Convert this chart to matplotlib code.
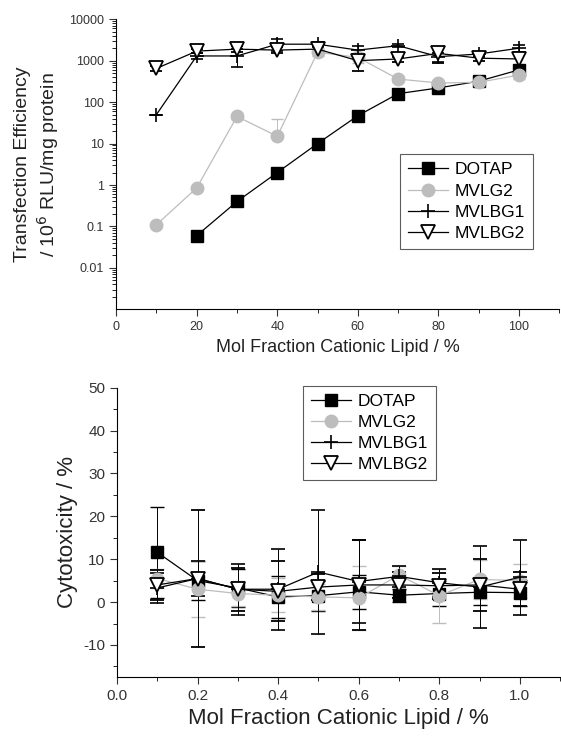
import matplotlib
matplotlib.use("Agg")
import matplotlib.pyplot as plt
import numpy as np
from matplotlib.ticker import LogLocator, NullFormatter, MultipleLocator

plt.rcParams['font.family'] = ['Liberation Sans', 'DejaVu Sans']
plt.rcParams['axes.unicode_minus'] = False

# transfection efficiency (top)
x_top = [10, 20, 30, 40, 50, 60, 70, 80, 90, 100]
dotap_te = [np.nan, 0.06, 0.4, 2.0, 10, 47, 160, 220, 320, 600]
dotap_te_err = [0, 0.01, 0.08, 0.3, 1.5, 8, 40, 40, 60, 100]
mvlg2_te = [0.11, 0.85, 45, 15, 1600, 1200, 360, 290, 300, 450]
mvlg2_te_err = [0.01, 0.1, 5, 25, 300, 300, 60, 50, 60, 80]
mvlbg1_te = [50, 1300, 1300, 2500, 2500, 1800, 2300, 1250, 1450, 2000]
mvlbg1_te_err = [0, 200, 600, 800, 400, 400, 200, 300, 200, 400]
mvlbg2_te = [650, 1700, 1900, 1800, 1900, 1000, 1100, 1500, 1150, 1100]
mvlbg2_te_err = [80, 200, 300, 300, 300, 450, 150, 600, 150, 300]

# cytotoxicity (bottom)
x_bot = [0.1, 0.2, 0.3, 0.4, 0.5, 0.6, 0.7, 0.8, 0.9, 1.0]
dotap_cy = [11.6, 5.0, 3.3, 1.2, 1.5, 2.4, 1.6, 2.0, 2.3, 2.2]
dotap_cy_err = [10.6, 4.5, 4.5, 5.0, 3.5, 4.0, 1.5, 3.0, 3.0, 3.0]
mvlg2_cy = [5.5, 3.0, 2.0, 1.6, 1.2, 1.0, 6.3, 1.5, 5.3, 5.0]
mvlg2_cy_err = [2.3, 6.5, 3.0, 4.0, 3.0, 7.5, 2.2, 6.3, 4.5, 4.0]
mvlbg1_cy = [3.3, 5.5, 3.0, 3.0, 7.0, 4.8, 6.0, 4.5, 3.5, 5.8]
mvlbg1_cy_err = [3.5, 4.0, 6.0, 9.5, 14.5, 9.7, 2.5, 3.3, 9.6, 8.8]
mvlbg2_cy = [4.0, 5.5, 3.0, 2.5, 3.5, 4.0, 4.0, 3.8, 4.0, 3.0]
mvlbg2_cy_err = [3.5, 16.0, 5.0, 7.0, 3.0, 10.5, 3.0, 3.0, 6.0, 4.0]

names = ["DOTAP", "MVLG2", "MVLBG1", "MVLBG2"]
styles = [
    dict(color="black", marker="s", markersize=9, mfc="black", mec="black"),
    dict(color="#bdbdbd", marker="o", markersize=9, mfc="#bdbdbd", mec="#bdbdbd"),
    dict(color="black", marker="+", markersize=10, mew=1.2),
    dict(color="black", marker="v", markersize=9.5, mfc="white", mec="black", mew=1.3),
]


def log_err(y, e):
    # keep the lower whisker above zero on a log axis
    y = np.asarray(y, float)
    e = np.asarray(e, float)
    lo = np.where(e >= y, 0, e)
    return [lo, e]


fig = plt.figure(figsize=(5.61, 7.40), dpi=100)

ax1 = fig.add_axes([0.207, 0.582, 0.79, 0.392])
top_data = [(dotap_te, dotap_te_err), (mvlg2_te, mvlg2_te_err),
            (mvlbg1_te, mvlbg1_te_err), (mvlbg2_te, mvlbg2_te_err)]
handles = []
for (y, e), name, st in zip(top_data, names, styles):
    c = ax1.errorbar(x_top, y, yerr=log_err(y, e), label=name, lw=0.9, capsize=4,
                     elinewidth=0.7, ecolor=st["color"], **st)
    handles.append(c.lines[0])
ax1.set_yscale("log")
ax1.set_ylim(0.001, 10000)
ax1.set_xlim(0, 110)
ax1.set_yticks([0.01, 0.1, 1, 10, 100, 1000, 10000])
ax1.set_yticklabels(["0.01", "0.1", "1", "10", "100", "1000", "10000"])
ax1.yaxis.set_minor_locator(LogLocator(base=10, subs=np.arange(2, 10), numticks=20))
ax1.yaxis.set_minor_formatter(NullFormatter())
ax1.set_xticks([0, 20, 40, 60, 80, 100])
ax1.xaxis.set_minor_locator(MultipleLocator(10))
ax1.tick_params(labelsize=9, direction="out", length=5, color="#333333", labelcolor="#333333")
ax1.tick_params(which="minor", length=3)
for s in ["top", "right"]:
    ax1.spines[s].set_visible(False)
ax1.set_xlabel("Mol Fraction Cationic Lipid / %", fontsize=13, color="#222222")
ax1.set_ylabel("Transfection Efficiency\n/ 10$^6$ RLU/mg protein", fontsize=14,
               color="#222222", labelpad=6)
leg1 = ax1.legend(handles, names, loc="upper left", bbox_to_anchor=(0.641, 0.534),
                  fontsize=12.5, fancybox=False, edgecolor="#333333", handlelength=2.3,
                  borderpad=0.45, labelspacing=0.35, handletextpad=0.4,
                  borderaxespad=0)
leg1.get_frame().set_linewidth(0.8)

ax2 = fig.add_axes([0.2086, 0.085, 0.79, 0.391])
bot_data = [(dotap_cy, dotap_cy_err), (mvlg2_cy, mvlg2_cy_err),
            (mvlbg1_cy, mvlbg1_cy_err), (mvlbg2_cy, mvlbg2_cy_err)]
handles = []
for (y, e), name, st in zip(bot_data, names, styles):
    c = ax2.errorbar(x_bot, y, yerr=e, label=name, lw=0.9, capsize=5, elinewidth=0.7,
                     ecolor=st["color"], **st)
    handles.append(c.lines[0])
ax2.set_ylim(-17.5, 50)
ax2.set_xlim(0, 1.1)
ax2.set_yticks([-10, 0, 10, 20, 30, 40, 50])
ax2.yaxis.set_minor_locator(MultipleLocator(5))
ax2.set_xticks([0.0, 0.2, 0.4, 0.6, 0.8, 1.0])
ax2.set_xticklabels(["0.0", "0.2", "0.4", "0.6", "0.8", "1.0"])
ax2.xaxis.set_minor_locator(MultipleLocator(0.1))
ax2.tick_params(labelsize=11, direction="out", length=5, color="#333333", labelcolor="#333333")
ax2.tick_params(which="minor", length=3)
for s in ["top", "right"]:
    ax2.spines[s].set_visible(False)
ax2.set_xlabel("Mol Fraction Cationic Lipid / %", fontsize=16, color="#222222")
ax2.set_ylabel("Cytotoxicity / %", fontsize=16, color="#222222")
leg2 = ax2.legend(handles, names, loc="upper left", bbox_to_anchor=(0.42, 1.007),
                  fontsize=12.5, fancybox=False, edgecolor="#333333", handlelength=2.3,
                  borderpad=0.45, labelspacing=0.35, handletextpad=0.4,
                  borderaxespad=0)
leg2.get_frame().set_linewidth(0.8)

fig.savefig("out.png", dpi=100)
